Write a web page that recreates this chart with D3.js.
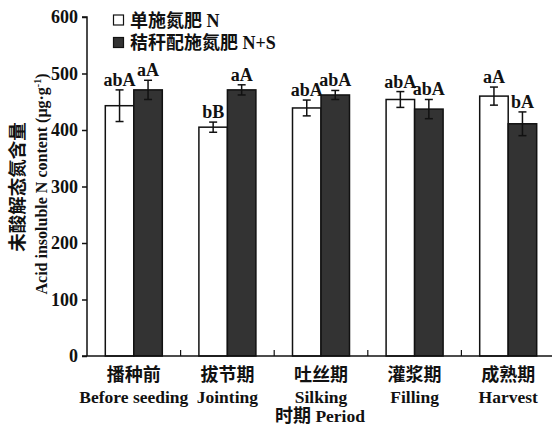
<!DOCTYPE html>
<html><head><meta charset="utf-8">
<script src="https://cdn.jsdelivr.net/npm/d3@7"></script>
<style>body{margin:0;background:#fff}svg{display:block}text{font-family:"Liberation Serif","Times New Roman","Noto Sans CJK SC",serif;font-weight:bold;fill:#111}</style>
</head><body><svg id="c" width="552" height="428"></svg>
<script>
const categoriesCN = ["播种前","拔节期","吐丝期","灌浆期","成熟期"];
const categoriesEN = ["Before seeding","Jointing","Silking","Filling","Harvest"];
const seriesNames = ["单施氮肥 N","秸秆配施氮肥 N+S"];
const valuesN  = [443, 405, 439, 454, 460];
const errorsN  = [28, 9, 14, 14, 16];
const lettersN = ["abA","bB","abA","abA","aA"];
const valuesNS = [471, 471, 462, 437, 411];
const errorsNS = [17, 9, 8, 17, 21];
const lettersNS = ["aA","aA","abA","abA","bA"];
const yTicks = [0,100,200,300,400,500,600];

const svg = d3.select("#c");
const x0 = 87, x1 = 555, yTop = 17, yBot = 356;
const x = d3.scaleBand().domain(d3.range(5)).range([x0, x1]).padding(0);
const y = d3.scaleLinear().domain([0,600]).range([yBot, yTop]);
const bw = 28.5;
const colors = ["#ffffff","#333333"];

const series = [
  {vals: valuesN, errs: errorsN, lets: lettersN, col: colors[0], off: -bw},
  {vals: valuesNS, errs: errorsNS, lets: lettersNS, col: colors[1], off: 0}
];

const g = svg.append("g");
series.forEach(s => {
  s.vals.forEach((v,i) => {
    const cx = x(i) + x.bandwidth()/2 + s.off;
    g.append("rect").attr("x", cx).attr("y", y(v)).attr("width", bw).attr("height", y(0)-y(v))
      .attr("fill", s.col).attr("stroke", "#111").attr("stroke-width", 1.5);
    const mx = cx + bw/2, e = s.errs[i];
    g.append("line").attr("x1", mx).attr("x2", mx).attr("y1", y(v+e)).attr("y2", y(v-e)).attr("stroke","#111").attr("stroke-width",1.5);
    [v+e, v-e].forEach(t => g.append("line").attr("x1", mx-4).attr("x2", mx+4).attr("y1", y(t)).attr("y2", y(t)).attr("stroke","#111").attr("stroke-width",1.5));
    g.append("text").attr("x", mx).attr("y", y(v+e)-4).attr("text-anchor","middle").attr("font-size",18).text(s.lets[i]);
  });
});

// y axis
const ya = svg.append("g").attr("transform", `translate(${x0},0)`)
  .call(d3.axisLeft(y).tickValues(yTicks).tickSize(5).tickPadding(4));
ya.select(".domain").attr("stroke","#111").attr("stroke-width",1.5).attr("d", `M-5,${yTop}H0V${yBot}`);
ya.selectAll(".tick line").attr("stroke","#111").attr("stroke-width",1.5);
ya.selectAll(".tick text").attr("font-size",18).attr("font-family",null).attr("fill","#111");

// x axis
svg.append("line").attr("x1", x0-5).attr("x2", x1).attr("y1", yBot).attr("y2", yBot).attr("stroke","#111").attr("stroke-width",1.5);
d3.range(1,5).forEach(i => svg.append("line").attr("x1", x(i)).attr("x2", x(i)).attr("y1", yBot).attr("y2", yBot-6).attr("stroke","#111").attr("stroke-width",1.2));

categoriesCN.forEach((c,i) => {
  const cx = x(i) + x.bandwidth()/2;
  svg.append("text").attr("x", cx).attr("y", 381).attr("text-anchor","middle").attr("font-size",18).text(c);
  svg.append("text").attr("x", cx).attr("y", 403).attr("text-anchor","middle").attr("font-size",17.5).text(categoriesEN[i]);
});
const pt = svg.append("text").attr("x", 320).attr("y", 422).attr("text-anchor","middle").attr("font-size",17.5);
pt.append("tspan").attr("font-size",18).text("时期");
pt.append("tspan").text(" Period");

// y titles
svg.append("text").attr("transform","translate(24,187) rotate(-90)").attr("text-anchor","middle").attr("font-size",18.5).text("未酸解态氮含量");
const yt = svg.append("text").attr("transform","translate(47,184) rotate(-90)").attr("text-anchor","middle").attr("font-size",16);
yt.append("tspan").text("Acid insoluble N content (μg·g");
yt.append("tspan").attr("dy",-6).attr("font-size",10).text("-1");
yt.append("tspan").attr("dy",6).text(")");

// legend
seriesNames.forEach((n,i) => {
  const ly = 15 + i*22.5;
  svg.append("rect").attr("x",113.5).attr("y",ly).attr("width",10).attr("height",10).attr("fill",colors[i]).attr("stroke","#111").attr("stroke-width",1.2);
  svg.append("text").attr("x",130).attr("y",ly+11.5).attr("font-size",18).text(n);
});
</script></body></html>
